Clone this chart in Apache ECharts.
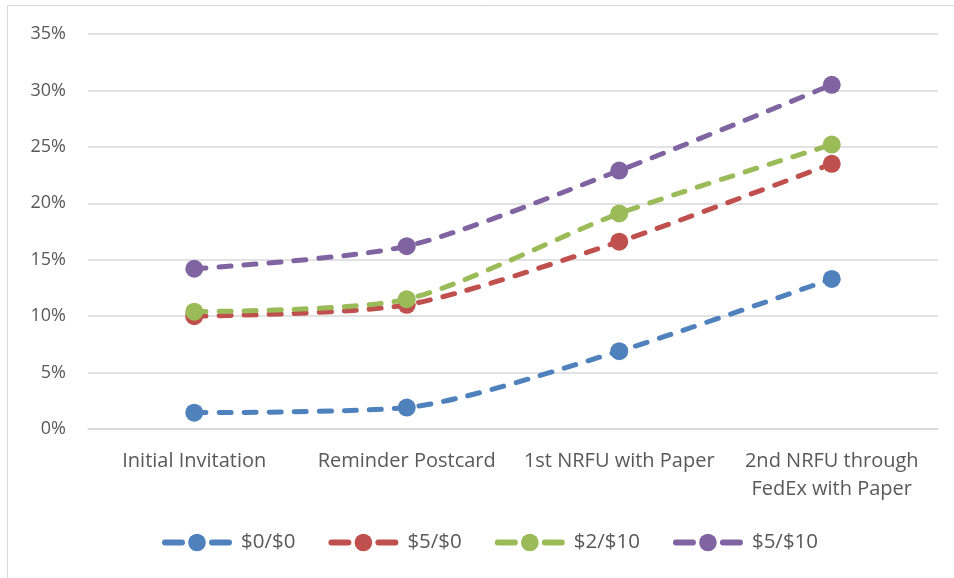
<!DOCTYPE html>
<html>
<head>
<meta charset="utf-8">
<script src="https://cdn.jsdelivr.net/npm/echarts@6/dist/echarts.min.js"></script>
<style>
  html, body { margin: 0; padding: 0; background: #fff; }
  #chart { width: 954px; height: 578px; }
</style>
</head>
<body>
<div id="chart"></div>
<script>
// Response stages
const stages = ['Initial Invitation', 'Reminder Postcard', '1st NRFU with Paper', '2nd NRFU through\nFedEx with Paper'];

// Cumulative response rates (%) per incentive condition
const seriesNames = ['$0/$0', '$5/$0', '$2/$10', '$5/$10'];
const rate00  = [1.45, 1.9, 6.9, 13.3];
const rate50  = [10.0, 11.0, 16.6, 23.5];
const rate210 = [10.4, 11.5, 19.1, 25.2];
const rate510 = [14.2, 16.2, 22.9, 30.5];

const yTicks = [0, 5, 10, 15, 20, 25, 30, 35];

const colors = ['#4F81BD', '#C0504D', '#9BBB59', '#8064A2'];
const values = [rate00, rate50, rate210, rate510];

const font = 'Open Sans';
const chart = echarts.init(document.getElementById('chart'));

chart.setOption({
  animation: false,
  textStyle: { fontFamily: font },
  graphic: [{
    type: 'rect',
    shape: { x: 7.5, y: 5.5, width: 960, height: 600 },
    style: { fill: 'none', stroke: '#d9d9d9', lineWidth: 1 },
    silent: true
  }],
  grid: { left: 88, right: 16, top: 34, bottom: 149, containLabel: false },
  xAxis: {
    type: 'category',
    data: stages,
    boundaryGap: true,
    axisLine: { show: true, lineStyle: { color: '#d9d9d9', width: 1.5 } },
    axisTick: { show: false },
    axisLabel: {
      color: '#595959', fontSize: 20, fontFamily: font,
      margin: 18, lineHeight: 28, interval: 0
    }
  },
  yAxis: {
    type: 'value',
    min: yTicks[0],
    max: yTicks[yTicks.length - 1],
    interval: 5,
    axisLine: { show: false },
    axisTick: { show: false },
    splitLine: { lineStyle: { color: '#d9d9d9', width: 1.5 } },
    axisLabel: {
      color: '#595959', fontSize: 18, fontFamily: font, margin: 22,
      formatter: v => v + '%'
    }
  },
  legend: {
    bottom: 20,
    left: 157,
    itemWidth: 64,
    itemHeight: 22,
    itemGap: 33,
    textStyle: { color: '#595959', fontSize: 20.5, fontFamily: font, padding: [0, 0, 0, 7] },
    lineStyle: { width: 6, type: [17, 30], cap: 'round' },
    data: seriesNames
  },
  series: seriesNames.map((name, i) => ({
    name: name,
    type: 'line',
    data: values[i],
    smooth: 0.25,
    symbol: 'circle',
    symbolSize: 18,
    color: colors[i],
    itemStyle: { color: colors[i] },
    lineStyle: { color: colors[i], width: 5, type: [12, 13], cap: 'round' },
    z: 2 + i
  }))
});
</script>
</body>
</html>
